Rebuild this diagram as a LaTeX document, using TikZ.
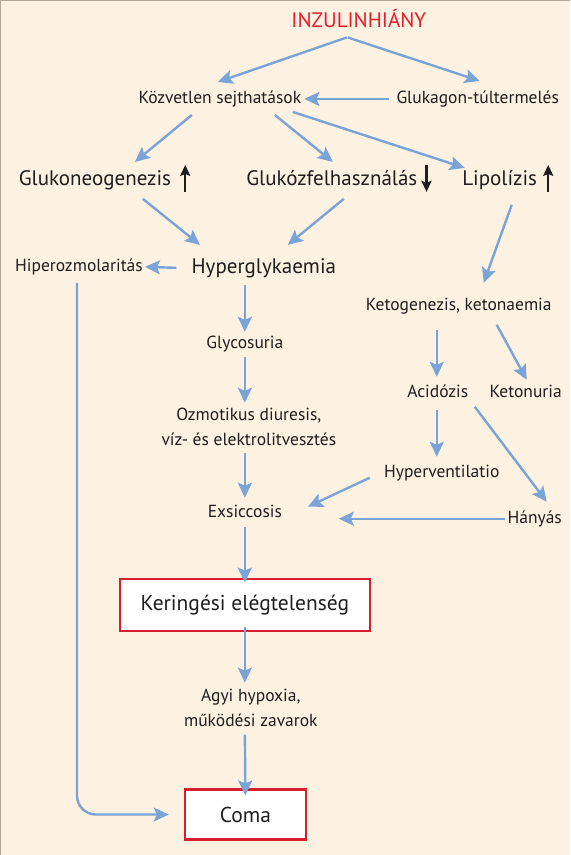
\documentclass[tikz,border=0pt]{standalone}
\usepackage{fontspec}
\setmainfont{PT Sans}
\usetikzlibrary{arrows.meta}
\definecolor{bg}{RGB}{253,241,226}
\definecolor{arrblue}{RGB}{122,163,216}
\definecolor{titred}{RGB}{226,30,45}
\definecolor{boxred}{RGB}{218,30,48}
\definecolor{txt}{RGB}{30,30,30}
\definecolor{edgegray}{RGB}{175,168,150}
\begin{document}
\begin{tikzpicture}[x=1pt,y=-1pt,
  lblfont/.style={inner sep=0pt, text=txt, font=\fontsize{17.5}{25}\selectfont},
  lbl/.style={lblfont, text height=12.8pt, text depth=3.5pt},
  lbltwo/.style={lblfont, align=center},
  big/.style={inner sep=0pt, text=txt, font=\fontsize{21}{25}\selectfont, text height=15pt, text depth=4pt},
  redbox/.style={draw=boxred, line width=2.2pt, fill=white, text=txt, font=\fontsize{21.5}{25}\selectfont, inner sep=0pt},
  arr/.style={draw=arrblue, line width=2.4pt, -{Stealth[length=15pt,width=14pt,inset=3pt]}},
  barr/.style={draw=txt, line width=2.4pt, -{Stealth[length=11pt,width=10pt,inset=2pt]}}
]
\fill[bg] (0,0) rectangle (570,855);
\draw[edgegray, line width=1pt] (0.5,855) -- (0.5,0.5) -- (570,0.5);
\useasboundingbox (0,0) rectangle (570,855);

% nodes
\node[inner sep=0pt, text=titred, font=\fontsize{21}{24}\selectfont, text height=14.7pt, text depth=0pt] (inz) at (359,20.5) {INZULINHIÁNY};
\node[lbl] (kozv) at (220,99) {Közvetlen sejthatások};
\node[lbl] (gluk) at (478,99) {Glukagon-túltermelés};
\node[big] (gneo) at (95,180) {Glukoneogenezis};
\node[big] (gfel) at (332,180) {Glukózfelhasználás};
\node[big] (lipo) at (500,180) {Lipolízis};
\node[big] (hyper) at (264,268) {Hyperglykaemia};
\node[lbl] (hozm) at (79,267) {Hiperozmolaritás};
\node[lbl] (glyc) at (245,344) {Glycosuria};
\node[lbltwo] (ozmo) at (249,427) {Ozmotikus diuresis,\\víz- és elektrolitvesztés};
\node[lbl] (exs) at (245,513) {Exsiccosis};
\node[lbl] (keto) at (459,306) {Ketogenezis, ketonaemia};
\node[lbl] (acid) at (438,393) {Acidózis};
\node[lbl] (kuria) at (526,393) {Ketonuria};
\node[lbl] (hvent) at (442,473) {Hyperventilatio};
\node[lbl] (hany) at (535,519) {Hányás};
\node[redbox, minimum width=250pt, minimum height=52pt] (ker) at (245,605) {Keringési elégtelenség};
\node[lbltwo] (agyi) at (251,708) {Agyi hypoxia,\\működési zavarok};
\node[redbox, minimum width=121pt, minimum height=50pt] (coma) at (245.5,815) {Coma};

% small black trend arrows
\draw[barr] ([shift={(14,12)}]gneo.east) -- ([shift={(14,-15)}]gneo.east);
\draw[barr] ([shift={(9,-15)}]gfel.east) -- ([shift={(9,12)}]gfel.east);
\draw[barr] ([shift={(11,12)}]lipo.east) -- ([shift={(11,-15)}]lipo.east);

% connectors
\draw[arr] ([shift={(-12,17)}]inz.center) -- ([shift={(-2,-17)}]kozv.center);
\draw[arr] ([shift={(-11,17)}]inz.center) -- ([shift={(2,-18)}]gluk.center);
\draw[arr] ([xshift=-7pt]gluk.west) -- ([xshift=3pt]kozv.east);
\draw[arr] ([shift={(-28,16)}]kozv.center) -- ([shift={(40,-18)}]gneo.center);
\draw[arr] ([shift={(55,16)}]kozv.center) -- ([shift={(1,-18)}]gfel.center);
\draw[arr] ([shift={(73,13)}]kozv.center) -- ([shift={(-35,-12)}]lipo.center);
\draw[arr] ([shift={(48,19)}]gneo.center) -- ([shift={(-64,-23)}]hyper.center);
\draw[arr] ([shift={(12,19)}]gfel.center) -- ([shift={(24,-23)}]hyper.center);
\draw[arr] ([shift={(12,25)}]lipo.center) -- ([shift={(25,-23)}]keto.center);
\draw[arr] ([xshift=-15pt]hyper.west) -- ([xshift=2pt]hozm.east);
\draw[arr] ([shift={(-19,17)}]hyper.center) -- ([shift={(0,-12)}]glyc.center);
\draw[arr] ([shift={(0,13)}]glyc.center) -- ([shift={(-4,-24)}]ozmo.center);
\draw[arr] ([shift={(-4,26)}]ozmo.center) -- ([shift={(0,-15)}]exs.center);
\draw[arr] ([shift={(0,14)}]exs.center) -- ([yshift=-5pt]ker.north);
\draw[arr] ([yshift=5pt]ker.south) -- ([shift={(-6,-25)}]agyi.center);
\draw[arr] ([shift={(-6,27)}]agyi.center) -- ([yshift=-7pt]coma.north);
\draw[arr, rounded corners=19pt] ([shift={(-2,16)}]hozm.center) |- ([xshift=-15pt]coma.west);
\draw[arr] ([shift={(-22,24)}]keto.center) -- ([shift={(-1,-16)}]acid.center);
\draw[arr] ([shift={(38,19)}]keto.center) -- ([shift={(1,-13)}]kuria.center);
\draw[arr] ([shift={(-1,17)}]acid.center) -- ([shift={(-5,-16)}]hvent.center);
\draw[arr] ([shift={(37,14)}]acid.center) -- ([shift={(12,-17)}]hany.center);
\draw[arr] ([shift={(-72,5)}]hvent.center) -- ([shift={(63,-6)}]exs.center);
\draw[arr] ([xshift=-2pt]hany.west) -- ([shift={(94,6)}]exs.center);
\end{tikzpicture}
\end{document}
